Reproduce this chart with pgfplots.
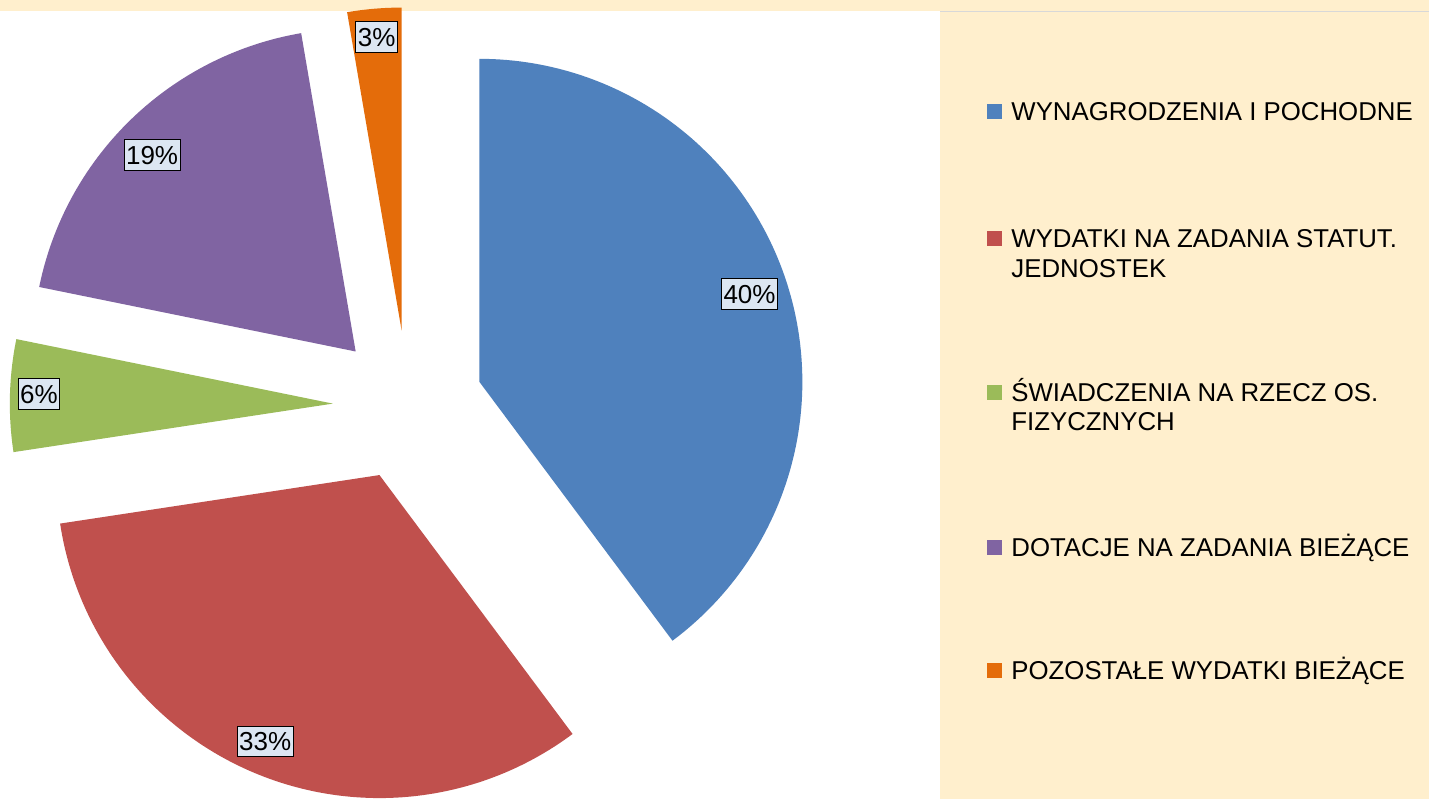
\documentclass[border=0pt]{standalone}
\usepackage{pgfplots}
\pgfplotsset{compat=1.18}
\usepackage{fontspec}
\setmainfont{Liberation Sans}
\definecolor{cblue}{HTML}{4F81BD}
\definecolor{cred}{HTML}{C0504D}
\definecolor{cgreen}{HTML}{9BBB59}
\definecolor{cpurple}{HTML}{8064A2}
\definecolor{corange}{HTML}{E46C0A}
\definecolor{panel}{HTML}{FFEFCD}
\definecolor{lblfill}{HTML}{DCE6F2}
\definecolor{sepline}{HTML}{D8D8D8}
% pie geometry (pixel units of the 1429x799 picture, y upwards)
\def\cx{408}\def\cy{393.5}\def\R{323}\def\ex{75.2}
\def\cum{0}
\newcommand\slice[5]{% value, colour, label, label distance, label angle offset
  \pgfmathsetmacro\aS{90-3.6*\cum}%
  \pgfmathsetmacro\aE{90-3.6*(\cum+#1)}%
  \pgfmathsetmacro\aM{(\aS+\aE)/2}%
  \pgfmathsetmacro\vx{\cx+\ex*cos(\aM)}%
  \pgfmathsetmacro\vy{\cy+\ex*sin(\aM)}%
  \pgfmathsetmacro\lx{\vx+#4*cos(\aM+#5)}%
  \pgfmathsetmacro\ly{\vy+#4*sin(\aM+#5)}%
  \edef\tmp{\noexpand\addplot[fill=#2,draw=none,domain=\aE:\aS,samples=120] ({\vx+\R*cos(x)},{\vy+\R*sin(x)}) -- (axis cs:\vx,\vy) -- cycle;}%
  \tmp
  \edef\tmp{\noexpand\node[lbl] at (axis cs:\lx,\ly) {#3\noexpand\%};}%
  \tmp
  \pgfmathsetmacro\cum{\cum+#1}%
}
\begin{document}
\begin{tikzpicture}[x=1pt,y=1pt,
  lbl/.style={draw=black, line width=0.5pt, fill=lblfill, inner xsep=1pt, inner ysep=3pt,
    text height=9.4pt, text depth=0pt, font=\fontsize{13}{14}\selectfont},
  leg/.style={anchor=base west, inner sep=0pt, font=\fontsize{12.9}{15}\selectfont}]
% backgrounds
\fill[white] (0,0) rectangle (714.5,399.5);
\fill[panel] (470,0) rectangle (714.5,393.5);
\fill[panel] (0,394) rectangle (714.5,399.5);
\draw[sepline, line width=0.8pt] (470,393.7) -- (714.5,393.7);
\begin{axis}[scale only axis, width=714.5pt, height=399.5pt,
  xmin=0, xmax=1429, ymin=0, ymax=799, hide axis, clip=true]
\slice{39.8}{cblue}{40}{284}{-0.4}
\slice{32.8}{cred}{33}{290}{-0.9}
\slice{5.6}{cgreen}{6}{294}{-0.5}
\slice{19.1}{cpurple}{19}{283}{1.9}
\slice{2.7}{corange}{3}{295}{0}
\end{axis}
% legend
\fill[cblue]   (493.5,339.75) rectangle (501,347.25);
\fill[cred]    (493.5,276.5) rectangle (501,284);
\fill[cgreen]  (493.5,199.75) rectangle (501,207.25);
\fill[cpurple] (493.5,122.25) rectangle (501,129.75);
\fill[corange] (493.5,60.5) rectangle (501,68);
\node[leg] at (505.5,339) {WYNAGRODZENIA I POCHODNE};
\node[leg] at (505.5,275.75) {WYDATKI NA ZADANIA STATUT.};
\node[leg] at (505.5,260.75) {JEDNOSTEK};
\node[leg] at (505.5,199) {ŚWIADCZENIA NA RZECZ OS.};
\node[leg] at (505.5,184.5) {FIZYCZNYCH};
\node[leg] at (505.5,121.5) {DOTACJE NA ZADANIA BIEŻĄCE};
\node[leg] at (505.5,59.75) {POZOSTAŁE WYDATKI BIEŻĄCE};
\pgfresetboundingbox
\useasboundingbox (0,0) rectangle (714.5,399.5);
\end{tikzpicture}
\end{document}
